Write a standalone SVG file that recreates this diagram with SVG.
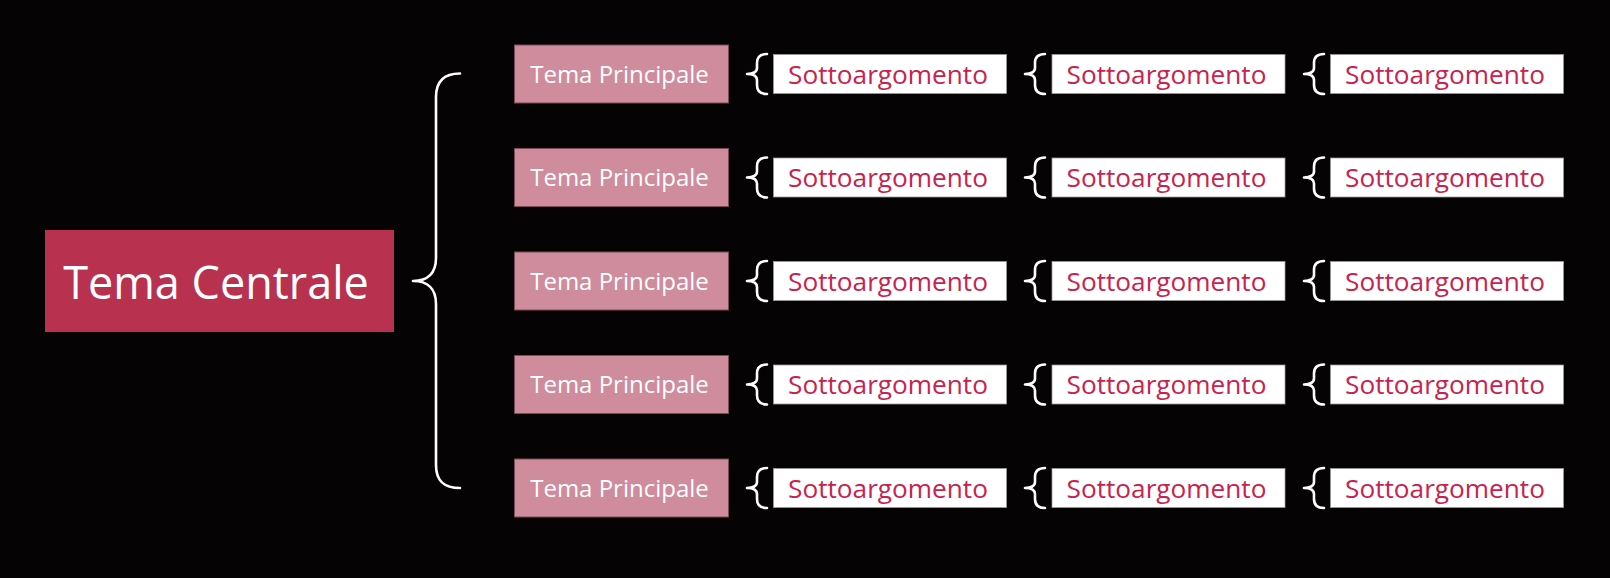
<svg xmlns="http://www.w3.org/2000/svg" xmlns:xlink="http://www.w3.org/1999/xlink" width="1610" height="578" viewBox="0 0 1610 578">
<style>
.bg{fill:#050304}
.central{fill:#b83250}
.ctext{font-family:"Open Sans","Noto Sans",sans-serif;font-size:45px;fill:#ffffff;text-anchor:middle}
.main{fill:#cf8c9c;stroke:#7a4a58;stroke-width:1}
.mtext{font-family:"Open Sans","Noto Sans",sans-serif;font-size:24px;fill:#ffffff;text-anchor:middle}
.sub{fill:#ffffff;stroke:#9a9a9a;stroke-width:0.8}
.stext{font-family:"Open Sans","Noto Sans",sans-serif;font-size:26.2px;fill:#c8234e;text-anchor:middle}
.brace{fill:none;stroke:#ffffff;stroke-width:2.6;stroke-linecap:round;stroke-linejoin:round}
</style>
<defs>
<path id="sb" class="brace" d="M20,-20 C13,-20 10,-17 10,-11 L10,-6 C10,-2 6,0 0,0 C6,0 10,2 10,6 L10,11 C10,17 13,20 20,20"/>
</defs>
<rect class="bg" x="0" y="0" width="1610" height="578"/>
<g id="connectors">
<path class="brace" d="M460,73.5 C445,73.5 436,80 436,97 L436,258 C436,273 428,281 413,281 C428,281 436,289 436,304 L436,465 C436,482 445,488 460,488"/>
<g id="small-braces">
<use xlink:href="#sb" x="747" y="74"/><use xlink:href="#sb" x="1025" y="74"/><use xlink:href="#sb" x="1304" y="74"/>
<use xlink:href="#sb" x="747" y="177.5"/><use xlink:href="#sb" x="1025" y="177.5"/><use xlink:href="#sb" x="1304" y="177.5"/>
<use xlink:href="#sb" x="747" y="281"/><use xlink:href="#sb" x="1025" y="281"/><use xlink:href="#sb" x="1304" y="281"/>
<use xlink:href="#sb" x="747" y="384.5"/><use xlink:href="#sb" x="1025" y="384.5"/><use xlink:href="#sb" x="1304" y="384.5"/>
<use xlink:href="#sb" x="747" y="488"/><use xlink:href="#sb" x="1025" y="488"/><use xlink:href="#sb" x="1304" y="488"/>
</g>
</g>
<g id="central">
<rect class="central" x="45" y="230" width="349" height="102"/>
<text class="ctext" x="216" y="299">Tema Centrale</text>
</g>
<g id="main1"><rect class="main" x="514.5" y="45" width="214" height="58"/><text class="mtext" x="619.5" y="82.5">Tema Principale</text></g>
<g id="main2"><rect class="main" x="514.5" y="148.5" width="214" height="58"/><text class="mtext" x="619.5" y="186">Tema Principale</text></g>
<g id="main3"><rect class="main" x="514.5" y="252" width="214" height="58"/><text class="mtext" x="619.5" y="289.5">Tema Principale</text></g>
<g id="main4"><rect class="main" x="514.5" y="355.5" width="214" height="58"/><text class="mtext" x="619.5" y="393">Tema Principale</text></g>
<g id="main5"><rect class="main" x="514.5" y="459" width="214" height="58"/><text class="mtext" x="619.5" y="496.5">Tema Principale</text></g>
<g id="sub1-1"><rect class="sub" x="773.5" y="54.5" width="233" height="39"/><text class="stext" x="888" y="83.7">Sottoargomento</text></g>
<g id="sub1-2"><rect class="sub" x="1052" y="54.5" width="233" height="39"/><text class="stext" x="1166.5" y="83.7">Sottoargomento</text></g>
<g id="sub1-3"><rect class="sub" x="1330.5" y="54.5" width="233" height="39"/><text class="stext" x="1445" y="83.7">Sottoargomento</text></g>
<g id="sub2-1"><rect class="sub" x="773.5" y="158" width="233" height="39"/><text class="stext" x="888" y="187.2">Sottoargomento</text></g>
<g id="sub2-2"><rect class="sub" x="1052" y="158" width="233" height="39"/><text class="stext" x="1166.5" y="187.2">Sottoargomento</text></g>
<g id="sub2-3"><rect class="sub" x="1330.5" y="158" width="233" height="39"/><text class="stext" x="1445" y="187.2">Sottoargomento</text></g>
<g id="sub3-1"><rect class="sub" x="773.5" y="261.5" width="233" height="39"/><text class="stext" x="888" y="290.7">Sottoargomento</text></g>
<g id="sub3-2"><rect class="sub" x="1052" y="261.5" width="233" height="39"/><text class="stext" x="1166.5" y="290.7">Sottoargomento</text></g>
<g id="sub3-3"><rect class="sub" x="1330.5" y="261.5" width="233" height="39"/><text class="stext" x="1445" y="290.7">Sottoargomento</text></g>
<g id="sub4-1"><rect class="sub" x="773.5" y="365" width="233" height="39"/><text class="stext" x="888" y="394.2">Sottoargomento</text></g>
<g id="sub4-2"><rect class="sub" x="1052" y="365" width="233" height="39"/><text class="stext" x="1166.5" y="394.2">Sottoargomento</text></g>
<g id="sub4-3"><rect class="sub" x="1330.5" y="365" width="233" height="39"/><text class="stext" x="1445" y="394.2">Sottoargomento</text></g>
<g id="sub5-1"><rect class="sub" x="773.5" y="468.5" width="233" height="39"/><text class="stext" x="888" y="497.7">Sottoargomento</text></g>
<g id="sub5-2"><rect class="sub" x="1052" y="468.5" width="233" height="39"/><text class="stext" x="1166.5" y="497.7">Sottoargomento</text></g>
<g id="sub5-3"><rect class="sub" x="1330.5" y="468.5" width="233" height="39"/><text class="stext" x="1445" y="497.7">Sottoargomento</text></g>
</svg>
